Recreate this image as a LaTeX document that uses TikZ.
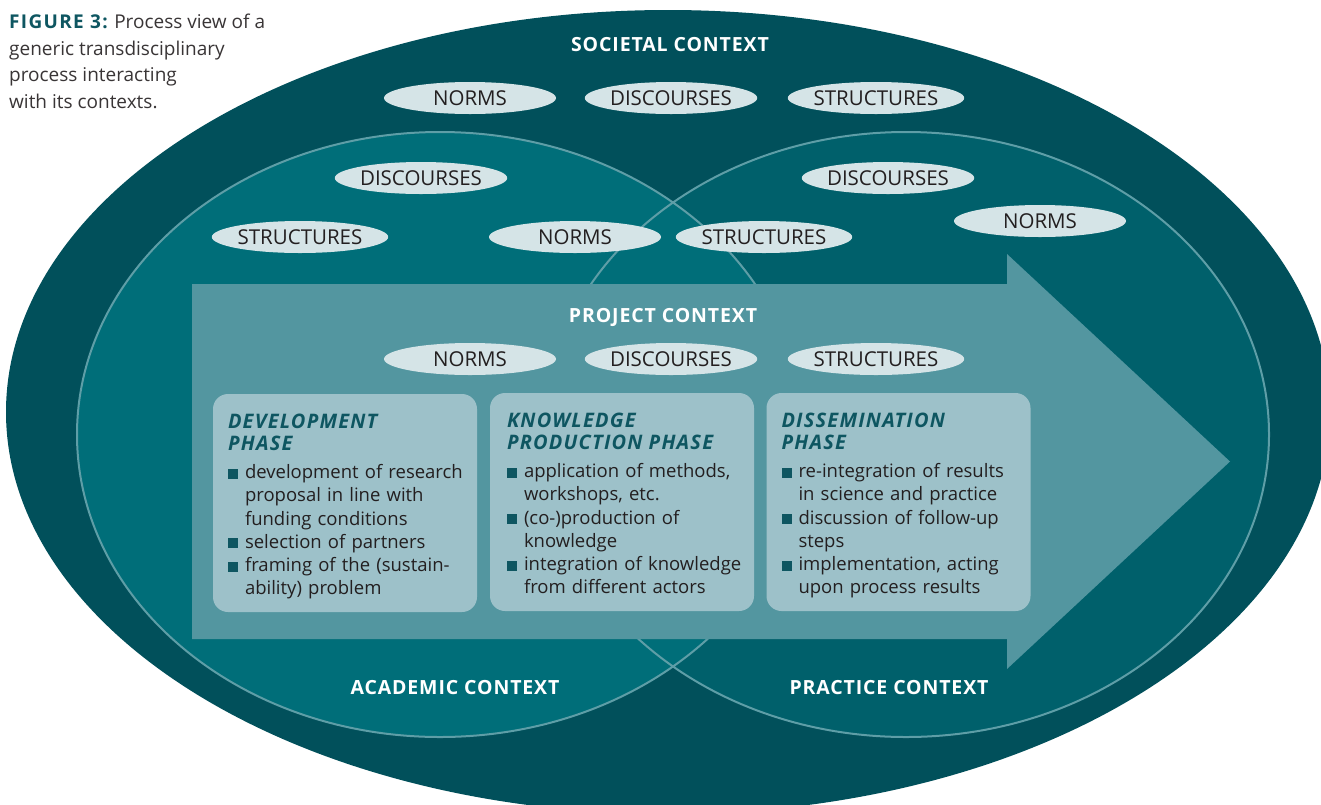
\documentclass[tikz,border=0pt]{standalone}
\usepackage{fontspec}
\setmainfont{Open Sans}
\usetikzlibrary{shapes.geometric}

\definecolor{societal}{RGB}{1,80,91}
\definecolor{academic}{RGB}{0,110,121}
\definecolor{practice}{RGB}{0,96,107}
\definecolor{project}{RGB}{83,150,160}
\definecolor{phasefill}{RGB}{157,193,201}
\definecolor{ovalfill}{RGB}{213,228,231}
\definecolor{rimline}{RGB}{94,158,167}
\definecolor{titleteal}{RGB}{14,86,97}
\definecolor{ink}{RGB}{35,31,32}

\newcommand{\phasetitle}[1]{{\color{titleteal}\fontsize{20}{22}\selectfont
  \bfseries\itshape\addfontfeatures{LetterSpace=6}#1\par}\vspace{5pt}}
\newcommand{\phaseitem}[1]{\par\hangindent=17pt\hangafter=1\noindent
  \makebox[17pt][l]{\textcolor{titleteal}{\rule{10pt}{10pt}}}#1\par}

\begin{document}
\begin{tikzpicture}[x=1pt,y=-1pt,
    oval/.style={ellipse,fill=ovalfill,minimum width=172,minimum height=32,
      inner sep=0,text=ink,font=\fontsize{20.5}{22}\selectfont},
    ctxlabel/.style={text=white,
      font=\fontsize{19.5}{20}\selectfont\bfseries\addfontfeatures{LetterSpace=4.5}},
    phasebox/.style={rounded corners=15,fill=phasefill,minimum width=264,
      minimum height=218,inner sep=0},
    phasetext/.style={anchor=north west,inner sep=0,text width=250,align=left,
      text=ink,font=\fontsize{18.5}{23.2}\selectfont}]
  \useasboundingbox (0,0) rectangle (1321,804);
  \fill[white] (0,0) rectangle (1321,804);

  % contexts
  \fill[societal] (668,412) ellipse [x radius=662,y radius=402];
  \fill[practice] (906,434.5) ellipse [x radius=363,y radius=302.5];
  \fill[academic] (440,434.5) ellipse [x radius=363,y radius=302.5];
  \draw[rimline,line width=2] (906,434.5) ellipse [x radius=363,y radius=302.5]
    (440,434.5) ellipse [x radius=363,y radius=302.5];

  % process arrow
  \fill[project] (192,284) -- (1007,284) -- (1007,254) -- (1230,461.5)
    -- (1007,669) -- (1007,639) -- (192,639) -- cycle;

  \node[anchor=north west,inner sep=0,align=left,text=ink!90,
    font=\fontsize{19}{26.5}\selectfont] (CAP) at (9,14)
    {{\color{titleteal}\bfseries\addfontfeatures{LetterSpace=7}FIGURE 3:} Process view of a\\
     generic transdisciplinary\\process interacting\\with its contexts.};

  \node[ctxlabel] (SOC) at (670,45) {SOCIETAL CONTEXT};
  \node[ctxlabel] (PROJ) at (663,317) {PROJECT CONTEXT};
  \node[ctxlabel] (ACAD) at (455,688) {ACADEMIC CONTEXT};
  \node[ctxlabel] (PRAC) at (889,688) {PRACTICE CONTEXT};

  \node[oval] (SN) at (470,98) {NORMS};
  \node[oval] (SD) at (671,98) {DISCOURSES};
  \node[oval] (SS) at (876,98) {STRUCTURES};
  \node[oval] (AD) at (421,178) {DISCOURSES};
  \node[oval] (AS) at (300,237) {STRUCTURES};
  \node[oval] (AN) at (575,237) {NORMS};
  \node[oval] (PD) at (888,178) {DISCOURSES};
  \node[oval] (PS) at (764,237) {STRUCTURES};
  \node[oval] (PN) at (1040,221) {NORMS};
  \node[oval] (JN) at (470,359) {NORMS};
  \node[oval] (JD) at (671,359) {DISCOURSES};
  \node[oval] (JS) at (876,359) {STRUCTURES};

  % phases
  \node[phasebox] (DEV) at (345,503) {};
  \node[phasebox] (KNOW) at (622,502) {};
  \node[phasebox] (DISS) at (898.5,502) {};

  \node[phasetext] (DEVtext) at ([shift={(15,20)}]DEV.north west) {
    \phasetitle{DEVELOPMENT\\PHASE}
    \phaseitem{development of research\newline proposal in line with\newline funding conditions}
    \phaseitem{selection of partners}
    \phaseitem{framing of the (sustain-\newline ability) problem}};
  \node[phasetext] (KNOWtext) at ([shift={(17,20)}]KNOW.north west) {
    \phasetitle{KNOWLEDGE\\PRODUCTION PHASE}
    \phaseitem{application of methods,\newline workshops, etc.}
    \phaseitem{(co-)production of\newline knowledge}
    \phaseitem{integration of knowledge\newline from different actors}};
  \node[phasetext] (DISStext) at ([shift={(15,20)}]DISS.north west) {
    \phasetitle{DISSEMINATION\\PHASE}
    \phaseitem{re-integration of results\newline in science and practice}
    \phaseitem{discussion of follow-up\newline steps}
    \phaseitem{implementation, acting\newline upon process results}};
\end{tikzpicture}
\end{document}
